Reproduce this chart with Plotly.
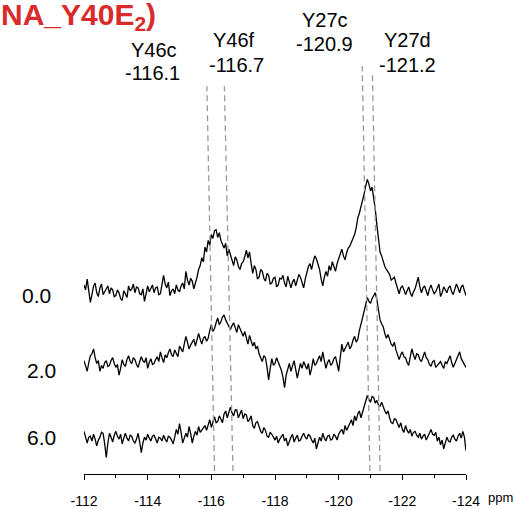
import numpy as np
import plotly.graph_objects as go

# chemical shift axis (ppm), sampled every 0.05 ppm from -112 to -124
ppm = np.round(np.arange(0, 241) * -0.05 - 112.0, 3)

# spectra (intensity above each trace's own baseline, arbitrary units)
spec_0_0 = [6, 1, 12, 0, -12, -4, 5, 8, -2, -6, 3, 7, -4, -1, 2, 5, -3, 3, 1, -6,
            -5, 1, -2, -8, -10, 0, -3, -7, 5, 0, 2, 7, -2, 4, 3, -3, -4, 2, -11, -2,
            5, -1, 2, 6, -2, 3, 4, -4, -3, 6, 16, 7, 3, 9, -5, 0, 2, -3, 6, 1,
            -1, 5, 8, 2, 20, 11, 6, 13, 10, 2, 7, 14, 22, 26, 34, 30, 45, 40, 52, 47,
            58, 54, 62, 63, 55, 60, 52, 47, 44, 49, 36, 43, 38, 31, 26, 35, 32, 25, 22, 28,
            30, 35, 42, 34, 40, 28, 18, 26, 22, 12, 14, 22, 20, 13, 10, 18, 16, 7, 8, 13,
            14, 4, 6, 13, 12, 16, 8, 4, 15, 9, 3, 9, 12, 5, 10, 17, 14, 7, 3, 12,
            20, 25, 28, 22, 30, 36, 33, 27, 22, 12, 5, 14, 20, 15, 26, 21, 30, 25, 20, 28,
            33, 38, 43, 36, 32, 39, 44, 46, 50, 53, 58, 65, 75, 80, 86, 92, 100, 108, 115, 110,
            103, 107, 97, 84, 68, 53, 40, 36, 30, 25, 22, 20, 17, 11, 13, 14, 8, 2, -3, 3,
            5, 1, -4, 0, 4, -2, -6, -1, 2, 8, 14, 4, -2, 3, 5, 0, -5, 2, 6, 1,
            -3, -1, 3, 7, -6, -2, 4, 0, -2, 3, 5, -1, -4, 2, 7, 3, -2, 4, 6, 0,
            -5]
spec_2_0 = [5, 0, -6, 3, 10, 12, 17, 8, 2, 5, -6, 0, -3, 3, 5, -1, 0, 5, 8, 2,
            -2, 1, -10, -3, 6, 1, -1, 6, 10, 4, 2, 8, 6, 1, -2, 4, 9, 5, 3, 8,
            -3, 3, 7, 1, 2, 6, 9, 4, 14, 8, 3, 11, 8, 13, 17, 11, 9, 16, 13, 9,
            20, 16, 14, 22, 30, 24, 17, 21, 24, 27, 20, 26, 33, 27, 22, 28, 30, 25, 28, 36,
            42, 35, 38, 44, 49, 42, 45, 50, 52, 47, 44, 40, 37, 41, 44, 39, 34, 42, 38, 33,
            30, 35, 27, 22, 31, 25, 20, 24, 17, 20, 12, 8, 4, 10, 8, -2, -15, -3, 7, 0,
            2, 8, 4, -2, -5, -12, -23, -10, -4, 2, -6, -1, 5, -4, -13, -5, 2, -3, 4, 0,
            -4, 2, -10, -3, 7, 0, 2, 6, 10, 4, 14, 5, -3, 3, 6, 0, 2, 7, 9, 2,
            -6, 8, 22, 14, 17, 21, 24, 17, 20, 26, 30, 24, 27, 36, 44, 49, 56, 62, 70, 66,
            64, 69, 72, 75, 68, 58, 47, 43, 40, 33, 28, 32, 26, 22, 20, 24, 16, 10, 6, 11,
            14, 9, 8, 3, 0, 9, 17, 11, 6, 12, 11, 6, 4, 9, 14, 8, 6, 1, -1, 4,
            5, -2, 0, 3, 4, 0, -3, 4, 2, 6, 10, 3, -2, 2, 6, 9, 14, 7, 4, 1,
            -2]
spec_6_0 = [8, 1, -4, 2, 3, -2, 5, 0, -7, -1, 2, 7, 6, -5, -19, -4, 6, 2, -3, 4,
            8, 3, 0, 5, -5, 1, 6, 1, -2, 4, 3, -2, -4, 0, 6, -3, -14, -4, 2, -1,
            5, 1, -2, 3, 4, 0, -4, 2, 1, -2, 4, 0, -3, 3, 2, -1, -5, 2, 10, 5,
            16, 7, -4, 1, 6, 2, 13, 6, -4, 3, 8, 4, 13, 7, 9, 12, 14, 9, 16, 20,
            12, 17, 23, 17, 18, 24, 21, 17, 26, 29, 22, 28, 33, 27, 24, 30, 30, 22, 27, 30,
            21, 26, 25, 18, 20, 24, 14, 11, 17, 18, 13, 8, 6, 12, 9, 3, 2, 7, 5, 1,
            -1, 3, -4, 0, 3, 5, -2, 1, -7, -2, 2, 5, -3, 1, 4, -2, -1, 3, 6, 2,
            0, 5, 3, -1, -4, 1, -10, -4, 2, -2, 6, 1, -2, 3, 4, -1, 0, 5, 3, -1,
            5, 8, 10, 5, 14, 9, 12, 16, 20, 14, 24, 19, 26, 29, 22, 28, 33, 38, 45, 41,
            38, 44, 43, 37, 40, 35, 34, 38, 33, 29, 26, 29, 22, 17, 16, 21, 20, 15, 12, 17,
            10, 7, 14, 9, 6, 10, 3, 7, 8, 4, 2, 6, 0, 3, 5, -1, 2, 6, 10, 5,
            4, 7, -2, 2, -6, -1, -10, -3, 2, -2, -3, 2, 4, 0, -2, 3, 6, 1, 8, 2,
            -12]

series_labels = ["0.0", "2.0", "6.0"]
series_values = [spec_0_0, spec_2_0, spec_6_0]
series_offsets = [189, 112, 36]

peak_names = ["Y46c", "Y46f", "Y27c", "Y27d"]
peak_shifts = ["-116.1", "-116.7", "-120.9", "-121.2"]
line_bottom_ppm = [-116.1, -116.68, -120.98, -121.3]
line_top_ppm = [-115.86, -116.41, -120.74, -121.06]

title_text = "NA_Y40E<sub>2</sub>)"
tick_vals = [-112, -114, -116, -118, -120, -122, -124]

# ---------------- figure ----------------
W, H = 514, 509
L, R, T, B = 84, 48, 0, 20
PW, PH = W - L - R, H - T - B


def px(xp):
    return (xp - L) / PW


def py(yp):
    return (H - B - yp) / PH


FONT = "Liberation Sans, Arial, sans-serif"
fig = go.Figure()

for vals, off in zip(series_values, series_offsets):
    fig.add_trace(go.Scatter(
        x=ppm, y=np.array(vals) + off, mode="lines",
        line=dict(color="black", width=1.3), showlegend=False, hoverinfo="skip"))

# dashed guide lines
line_top_px = [89, 89, 68, 74]
for xb, xt, ytp in zip(line_bottom_ppm, line_top_ppm, line_top_px):
    fig.add_shape(type="line", xref="x", yref="paper",
                  x0=xb, y0=py(486), x1=xt, y1=py(ytp),
                  line=dict(color="#9a9a9a", width=1.3, dash="6px,4px"))

ann = []
name_pos = [(153.5, 52), (234, 41.5), (325, 21), (407.5, 41.5)]
shift_pos = [(152.5, 75.5), (236, 67), (324, 45.5), (407, 67)]
for n, s, (nx, ny), (sx, sy) in zip(peak_names, peak_shifts, name_pos, shift_pos):
    ann.append(dict(text=n, x=px(nx), y=py(ny)))
    ann.append(dict(text=s, x=px(sx), y=py(sy)))

label_pos = [(36.5, 305), (41, 382), (41.5, 451)]
for lab, (lx, ly) in zip(series_labels, label_pos):
    ann.append(dict(text=lab, x=px(lx), y=py(ly), font=dict(size=21, color="black", family=FONT)))

annotations = []
for a in ann:
    d = dict(xref="paper", yref="paper", showarrow=False, xanchor="center", yanchor="middle",
             font=dict(size=20, color="black", family=FONT))
    d.update(a)
    annotations.append(d)

annotations.append(dict(text=title_text, xref="paper", yref="paper", x=px(-1), y=py(17),
                        xanchor="left", yanchor="middle", showarrow=False,
                        font=dict(size=30, color="#d92b2b", family=FONT, weight="bold")))
annotations.append(dict(text="ppm", xref="paper", yref="paper", x=px(500), y=py(503),
                        xanchor="center", yanchor="top", showarrow=False,
                        font=dict(size=13, color="black", family=FONT)))

fig.update_layout(
    width=W, height=H, margin=dict(l=L, r=R, t=T, b=B, pad=0),
    paper_bgcolor="white", plot_bgcolor="white",
    annotations=annotations,
    xaxis=dict(range=[-112, -124], tickvals=tick_vals, ticktext=[str(v) for v in tick_vals],
               ticks="outside", ticklen=5, tickwidth=1, tickcolor="black",
               showline=True, linecolor="black", linewidth=1, showgrid=False, zeroline=False,
               ticklabelstandoff=9,
               tickfont=dict(size=14, color="black", family=FONT),
               minor=dict(dtick=1, tick0=-112, ticks="outside", ticklen=3, tickcolor="black", showgrid=False)),
    yaxis=dict(range=[0, PH], visible=False, showgrid=False, zeroline=False),
)

fig.write_html("out.html")
